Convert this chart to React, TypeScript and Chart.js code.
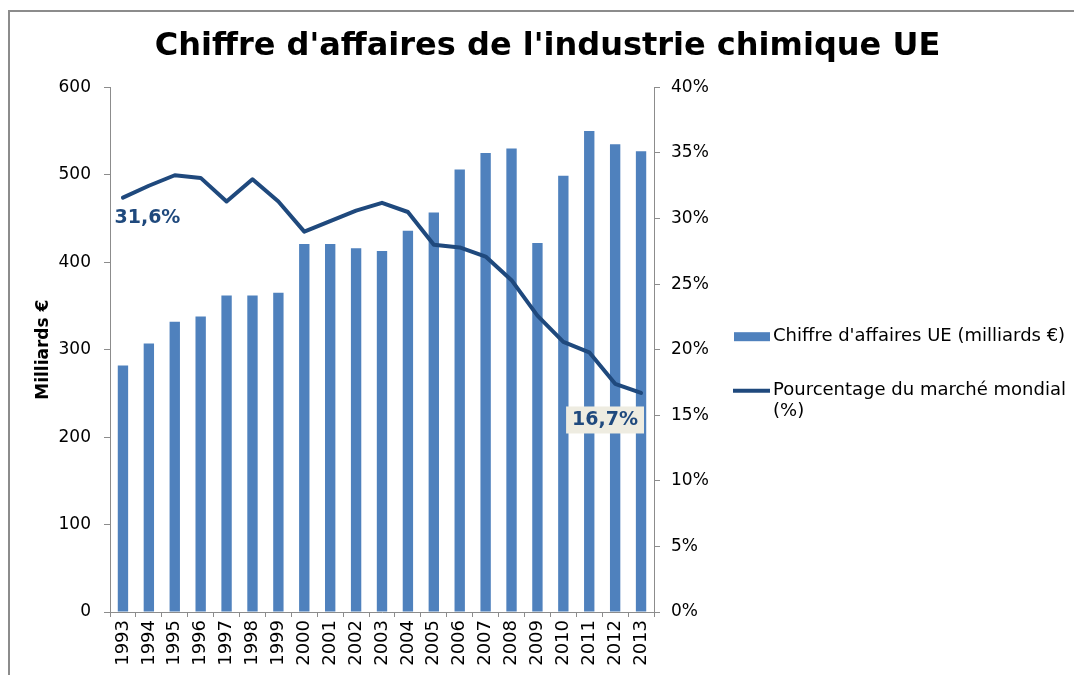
import React, { useEffect, useRef } from "react";
import { Chart, registerables } from "chart.js";

Chart.register(...registerables);

const years = ["1993", "1994", "1995", "1996", "1997", "1998", "1999", "2000", "2001", "2002", "2003", "2004", "2005", "2006", "2007", "2008", "2009", "2010", "2011", "2012", "2013"];
const revenue = [282, 307, 332, 338, 362, 362, 365, 421, 421, 416, 413, 436, 457, 506, 525, 530, 422, 499, 550, 535, 527];
const marketShare = [31.6, 32.5, 33.3, 33.1, 31.3, 33.0, 31.3, 29.0, 29.8, 30.6, 31.2, 30.5, 28.0, 27.8, 27.1, 25.3, 22.6, 20.6, 19.8, 17.4, 16.7];
const titleText = "Chiffre d'affaires de l'industrie chimique UE";
const barLabel = "Chiffre d'affaires UE (milliards €)";
const lineLabelLines = ["Pourcentage du marché mondial", "(%)"];
const leftAxisTitle = "Milliards €";
const firstLabel = "31,6%";
const lastLabel = "16,7%";

const FONT = "'DejaVu Sans', Verdana, sans-serif";
const BAR_COLOR = "#4F81BD";
const LINE_COLOR = "#1F497D";
const AXIS_COLOR = "#8C8C8C";

const decorPlugin = {
  id: "decor",
  afterDatasetsDraw(chart: any) {
    const ctx = chart.ctx;
    const meta = chart.getDatasetMeta(0);
    const p0 = meta.data[0];
    const pN = meta.data[meta.data.length - 1];
    ctx.save();
    ctx.font = `bold 19px ${FONT}`;
    ctx.textAlign = "center";
    ctx.textBaseline = "middle";
    ctx.fillStyle = LINE_COLOR;
    ctx.fillText(firstLabel, p0.x + 24.5, p0.y + 20.5);
    const lx = pN.x - 36;
    const ly = pN.y + 27;
    const w = ctx.measureText(lastLabel).width + 12;
    ctx.fillStyle = "#EEECE1";
    ctx.fillRect(lx - w / 2, ly - 13.5, w, 27);
    ctx.fillStyle = LINE_COLOR;
    ctx.fillText(lastLabel, lx, ly);
    ctx.restore();
  },
  afterDraw(chart: any) {
    const ctx = chart.ctx;
    const area = chart.chartArea;
    ctx.save();
    ctx.strokeStyle = AXIS_COLOR;
    ctx.lineWidth = 2;
    ctx.beginPath();
    ctx.moveTo(9, chart.height);
    ctx.lineTo(9, 11);
    ctx.lineTo(chart.width, 11);
    ctx.stroke();
    const lx = area.right + 80;
    const tx = area.right + 119;
    const cy = (area.top + area.bottom) / 2;
    ctx.fillStyle = BAR_COLOR;
    ctx.fillRect(lx, cy - 17.5, 36, 9);
    ctx.strokeStyle = LINE_COLOR;
    ctx.lineWidth = 4;
    ctx.beginPath();
    ctx.moveTo(lx - 1, cy + 41);
    ctx.lineTo(lx + 36, cy + 41);
    ctx.stroke();
    ctx.fillStyle = "#000";
    ctx.font = `18px ${FONT}`;
    ctx.textAlign = "left";
    ctx.textBaseline = "middle";
    ctx.fillText(barLabel, tx, cy - 13);
    lineLabelLines.forEach((t, i) => ctx.fillText(t, tx, cy + 41 + i * 21));
    ctx.restore();
  },
};

export default function App() {
  const ref = useRef<HTMLCanvasElement>(null);
  useEffect(() => {
    if (!ref.current) return;
    const chart = new Chart(ref.current, {
      type: "bar",
      data: {
        labels: years,
        datasets: [
          {
            type: "line",
            label: lineLabelLines.join(" "),
            data: marketShare,
            yAxisID: "y1",
            borderColor: LINE_COLOR,
            backgroundColor: LINE_COLOR,
            borderWidth: 4,
            pointRadius: 0,
            tension: 0,
            borderJoinStyle: "round",
            borderCapStyle: "round",
            order: 1,
          } as any,
          {
            type: "bar",
            label: barLabel,
            data: revenue,
            yAxisID: "y",
            backgroundColor: BAR_COLOR,
            borderWidth: 0,
            categoryPercentage: 1,
            barPercentage: 0.4,
            order: 2,
          } as any,
        ],
      },
      options: {
        responsive: false,
        animation: false,
        layout: { padding: { left: 21, right: 0, top: 0, bottom: 0 } },
        plugins: {
          legend: { display: false },
          tooltip: { enabled: false },
          title: {
            display: true,
            text: titleText,
            color: "#000",
            font: { family: FONT, size: 32, weight: "bold" },
            padding: { top: 27, bottom: 22 },
          },
        },
        scales: {
          x: {
            offset: true,
            grid: { display: true, drawOnChartArea: false, offset: true, tickLength: 5, color: AXIS_COLOR },
            border: { display: true, color: AXIS_COLOR, width: 1 },
            ticks: {
              color: "#000",
              font: { family: FONT, size: 18 },
              minRotation: 90,
              maxRotation: 90,
              autoSkip: false,
              padding: 3,
            },
            afterFit: (s: any) => { s.height = 63; },
          },
          y: {
            position: "left",
            min: 0,
            max: 600,
            grid: { display: true, drawOnChartArea: false, tickLength: 6, color: AXIS_COLOR },
            border: { display: true, color: AXIS_COLOR, width: 1 },
            ticks: { stepSize: 100, color: "#000", font: { family: FONT, size: 17 }, padding: 13 },
            title: {
              display: true,
              text: leftAxisTitle,
              color: "#000",
              font: { family: FONT, size: 17, weight: "bold" },
              padding: { top: 12, bottom: 0 },
            },
            afterFit: (s: any) => { s.width = 89; },
          },
          y1: {
            position: "right",
            min: 0,
            max: 40,
            grid: { display: true, drawOnChartArea: false, tickLength: 6, color: AXIS_COLOR },
            border: { display: true, color: AXIS_COLOR, width: 1 },
            ticks: {
              stepSize: 5,
              color: "#000",
              font: { family: FONT, size: 17 },
              padding: 11,
              callback: (v: any) => `${v}%`,
            },
            afterFit: (s: any) => { s.width = 420; },
          },
        },
      },
      plugins: [decorPlugin],
    });
    return () => chart.destroy();
  }, []);
  return (
    <div style={{ position: "fixed", left: 0, top: 0, width: 1074, height: 675, background: "#fff" }}>
      <canvas ref={ref} width={1074} height={675} style={{ display: "block" }} />
    </div>
  );
}
